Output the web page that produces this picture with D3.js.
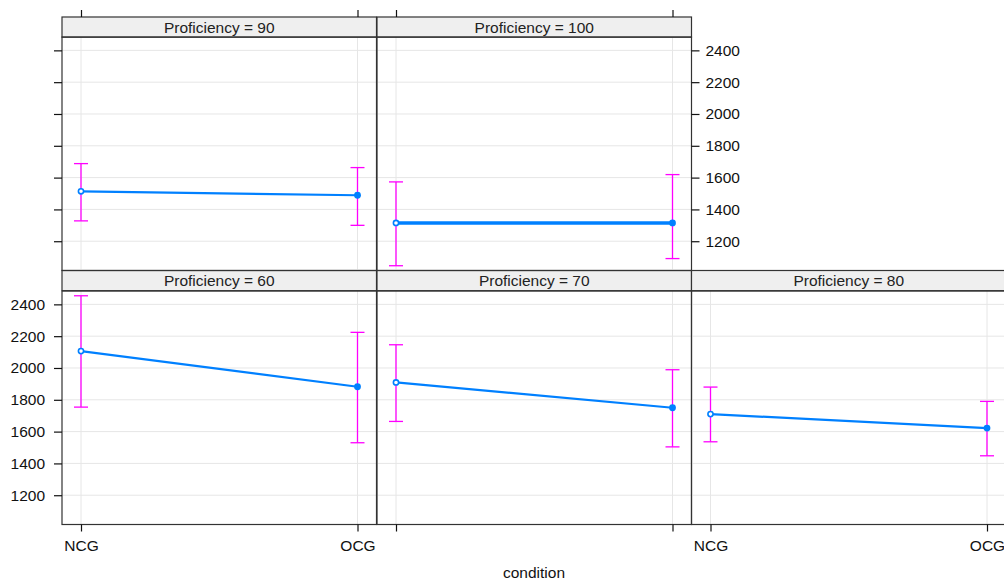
<!DOCTYPE html>
<html>
<head>
<meta charset="utf-8">
<script src="https://cdn.jsdelivr.net/npm/d3@7"></script>
<style>
  html, body { margin: 0; padding: 0; background: #fff; }
  svg { display: block; font-family: "Liberation Sans", Arial, sans-serif; }
</style>
</head>
<body>
<svg id="chart" width="1004" height="582"></svg>
<script>
// ---- data ----
const proficiencyLevels = [60, 70, 80, 90, 100];
const conditions = ["NCG", "OCG"];
const fitValues   = [[2106, 1882], [1909, 1750], [1710, 1622], [1514, 1489], [1315, 1315]];
const lowerValues = [[1754, 1530], [1664, 1504], [1536, 1448], [1328, 1300], [1046, 1091]];
const upperValues = [[2454, 2224], [2146, 1989], [1880, 1790], [1688, 1663], [1573, 1619]];
const yTickValues = [1200, 1400, 1600, 1800, 2000, 2200, 2400];
const stripPrefix = "Proficiency = ";
const xAxisTitle = "condition";

// ---- layout ----
const svg = d3.select("#chart");
const colX = [62, 377, 691.5];
const panelW = 314.5;
const rows = { top: { strip: 17, body: 37 }, bottom: { strip: 270.5, body: 291 } };
const bodyH = 233.5;
const stripH = 20.2;

const lineColor = "#0080ff";
const barColor = "#ff00ff";
const gridColor = "#e6e6e6";
const frameColor = "#333";

const yDomain = [1016, 2484];

function panelInfo(i) {
  if (i < 3) return { row: "bottom", col: i };
  return { row: "top", col: i - 3 };
}

proficiencyLevels.forEach((lev, i) => {
  const info = panelInfo(i);
  const left = colX[info.col];
  const r = rows[info.row];
  const x = d3.scalePoint().domain(conditions).range([left + 19, left + panelW - 19]);
  const y = d3.scaleLinear().domain(yDomain).range([r.body + bodyH, r.body]);

  const g = svg.append("g");

  // grid
  g.selectAll("line.hg").data(yTickValues).join("line")
    .attr("x1", left).attr("x2", left + panelW)
    .attr("y1", d => y(d)).attr("y2", d => y(d))
    .attr("stroke", gridColor).attr("stroke-width", 1);
  g.selectAll("line.vg").data(conditions).join("line")
    .attr("x1", d => x(d)).attr("x2", d => x(d))
    .attr("y1", r.body).attr("y2", r.body + bodyH)
    .attr("stroke", gridColor).attr("stroke-width", 1);

  // fitted line
  const pts = conditions.map((c, k) => ({ c, v: fitValues[i][k], lo: lowerValues[i][k], hi: upperValues[i][k] }));
  g.append("path")
    .datum(pts)
    .attr("d", d3.line().x(d => x(d.c)).y(d => y(d.v)))
    .attr("fill", "none").attr("stroke", lineColor)
    .attr("stroke-width", lev === 100 ? 3.5 : 2.2);

  // error bars
  pts.forEach(p => {
    const px = x(p.c);
    g.append("line").attr("x1", px).attr("x2", px).attr("y1", y(p.lo)).attr("y2", y(p.hi))
      .attr("stroke", barColor).attr("stroke-width", 1.3);
    [p.lo, p.hi].forEach(v => {
      g.append("line").attr("x1", px - 7).attr("x2", px + 7).attr("y1", y(v)).attr("y2", y(v))
        .attr("stroke", barColor).attr("stroke-width", 1.3);
    });
  });

  // points
  g.append("circle").attr("cx", x(conditions[0])).attr("cy", y(pts[0].v)).attr("r", 2.6)
    .attr("fill", "#fff").attr("stroke", lineColor).attr("stroke-width", 1.6);
  g.append("circle").attr("cx", x(conditions[1])).attr("cy", y(pts[1].v)).attr("r", 3.4)
    .attr("fill", lineColor);

  // strip
  g.append("rect").attr("x", left).attr("y", r.strip).attr("width", panelW).attr("height", stripH)
    .attr("fill", "#efefef").attr("stroke", frameColor).attr("stroke-width", 1.2);
  g.append("text").attr("x", left + panelW / 2).attr("y", r.strip + stripH / 2 + 5.4)
    .attr("text-anchor", "middle").attr("font-size", 15.5).attr("fill", "#222")
    .text(stripPrefix + lev);

  // panel frame
  g.append("rect").attr("x", left).attr("y", r.body).attr("width", panelW).attr("height", bodyH)
    .attr("fill", "none").attr("stroke", frameColor).attr("stroke-width", 1.2);

  // axes
  const styleAxis = sel => {
    sel.select(".domain").remove();
    sel.selectAll(".tick line").attr("stroke", "#111").attr("stroke-width", 1.2);
    sel.selectAll(".tick text").attr("font-size", 15.5).attr("fill", "#111")
      .attr("font-family", "\"Liberation Sans\", Arial, sans-serif");
  };
  const fmt = d3.format("d");

  if (info.col === 0) {
    const ax = d3.axisLeft(y).tickValues(yTickValues).tickSize(8).tickPadding(9).tickFormat(fmt);
    if (info.row === "top") ax.tickFormat("");
    g.append("g").attr("transform", `translate(${left},0)`).call(ax).call(styleAxis);
  }
  if (info.row === "top" && info.col === 1) {
    const ax = d3.axisRight(y).tickValues(yTickValues).tickSize(8).tickPadding(6).tickFormat(fmt);
    g.append("g").attr("transform", `translate(${left + panelW},0)`).call(ax).call(styleAxis);
  }
  if (info.row === "top") {
    const ax = d3.axisTop(x).tickSize(7).tickFormat("");
    g.append("g").attr("transform", `translate(0,${r.strip})`).call(ax).call(styleAxis);
  }
  if (info.row === "bottom") {
    const ax = d3.axisBottom(x).tickSize(7).tickPadding(8);
    if (info.col === 1) ax.tickFormat("");
    g.append("g").attr("transform", `translate(0,${r.body + bodyH})`).call(ax).call(styleAxis);
  }
});

// axis title
svg.append("text").attr("x", 534).attr("y", 578)
  .attr("text-anchor", "middle").attr("font-size", 15.5).attr("fill", "#111")
  .text(xAxisTitle);
</script>
</body>
</html>
